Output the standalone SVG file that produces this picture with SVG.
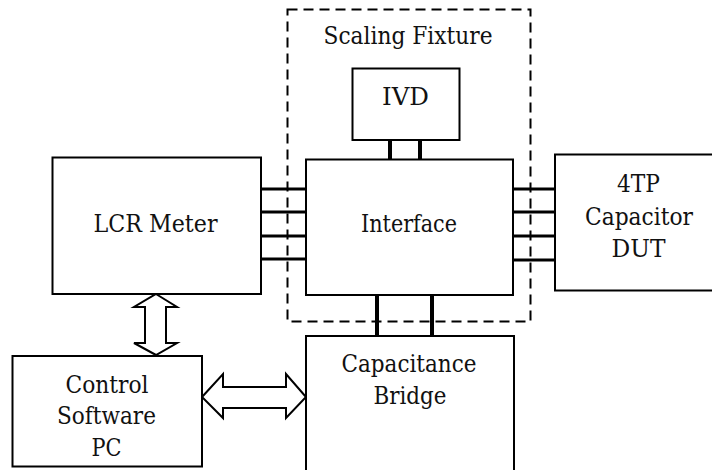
<svg xmlns="http://www.w3.org/2000/svg" width="712" height="470" viewBox="0 0 712 470">
<style>
.box{fill:#fff;stroke:#000;stroke-width:2}
.dash{fill:none;stroke:#000;stroke-width:2;stroke-dasharray:10 6}
.lbl{font-family:"DejaVu Serif","Liberation Serif",serif;font-size:24.5px;fill:#111;text-anchor:middle}
.wire{stroke:#000;stroke-width:3}
.bus{stroke:#000;stroke-width:4}
.arr{fill:#fff;stroke:#000;stroke-width:2;stroke-linejoin:miter}
</style>
<rect width="712" height="470" fill="#fff"/>
<g id="connectors">
<line class="bus" x1="390" y1="140" x2="390" y2="159"/>
<line class="bus" x1="420" y1="140" x2="420" y2="159"/>
<line class="wire" x1="261" y1="189" x2="306" y2="189"/>
<line class="wire" x1="261" y1="212" x2="306" y2="212"/>
<line class="wire" x1="261" y1="236" x2="306" y2="236"/>
<line class="wire" x1="261" y1="259" x2="306" y2="259"/>
<line class="wire" x1="513" y1="189" x2="555" y2="189"/>
<line class="wire" x1="513" y1="212" x2="555" y2="212"/>
<line class="wire" x1="513" y1="236" x2="555" y2="236"/>
<line class="wire" x1="513" y1="260" x2="555" y2="260"/>
<line class="bus" x1="377" y1="295" x2="377" y2="336"/>
<line class="bus" x1="432" y1="295" x2="432" y2="336"/>
<polygon class="arr" points="156,294 177,307 166,307 166,343 177,343 156,355 134,343 145,343 145,307 134,307"/>
<polygon class="arr" points="202,397 223,374 223,387 286,387 286,374 306,397 286,418 286,408 223,408 223,418"/>
</g>
<g id="scaling-fixture">
<rect class="dash" x="287.5" y="9.5" width="243" height="312"/>
<text class="lbl" x="408" y="44" textLength="169" lengthAdjust="spacingAndGlyphs">Scaling Fixture</text>
</g>
<g id="ivd">
<rect class="box" x="352.5" y="68.5" width="107" height="71.5"/>
<text class="lbl" x="405.5" y="105" textLength="47" lengthAdjust="spacingAndGlyphs">IVD</text>
</g>
<g id="interface">
<rect class="box" x="306" y="159.5" width="207" height="135.5"/>
<text class="lbl" x="409" y="232" textLength="96" lengthAdjust="spacingAndGlyphs">Interface</text>
</g>
<g id="lcr-meter">
<rect class="box" x="52.5" y="157.5" width="208.5" height="136.5"/>
<text class="lbl" x="155.5" y="232" textLength="124" lengthAdjust="spacingAndGlyphs">LCR Meter</text>
</g>
<g id="dut">
<rect class="box" x="555" y="154.5" width="170" height="136"/>
<text class="lbl" x="638.5" y="192" textLength="43" lengthAdjust="spacingAndGlyphs">4TP</text>
<text class="lbl" x="639" y="225" textLength="108" lengthAdjust="spacingAndGlyphs">Capacitor</text>
<text class="lbl" x="638.5" y="257" textLength="54" lengthAdjust="spacingAndGlyphs">DUT</text>
</g>
<g id="control-pc">
<rect class="box" x="12.5" y="356" width="189.5" height="110.5"/>
<text class="lbl" x="107" y="393" textLength="83" lengthAdjust="spacingAndGlyphs">Control</text>
<text class="lbl" x="106.5" y="424" textLength="99" lengthAdjust="spacingAndGlyphs">Software</text>
<text class="lbl" x="106.5" y="456" textLength="30" lengthAdjust="spacingAndGlyphs">PC</text>
</g>
<g id="capacitance-bridge">
<rect class="box" x="306" y="336" width="208" height="150"/>
<text class="lbl" x="409" y="372" textLength="135" lengthAdjust="spacingAndGlyphs">Capacitance</text>
<text class="lbl" x="410" y="404" textLength="73" lengthAdjust="spacingAndGlyphs">Bridge</text>
</g>
</svg>
